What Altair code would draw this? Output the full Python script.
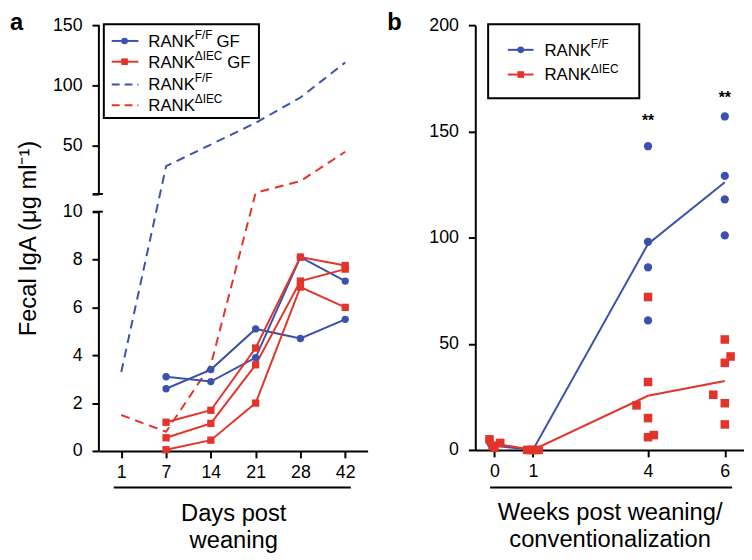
import altair as alt
import pandas as pd

BLUE = "#3a52ad"
RED = "#e3342b"
FONT = "Liberation Sans"

# ---------------- Panel a data ----------------
days = [1, 7, 14, 21, 28, 42]
gf_days = [7, 14, 21, 28, 42]
gf_ff_mice = [[3.1, 2.9, 3.9, 8.1, 7.1],
              [2.6, 3.4, 5.1, 4.7, 5.5]]
gf_diec_mice = [[1.2, 1.7, 4.3, 8.1, 7.75],
                [0.55, 1.15, 3.6, 7.1, 7.6],
                [0.05, 0.45, 2.0, 6.85, 6.0]]
spf_ff = [3.3, 33, 51, 69, 90, 119]
spf_diec = [1.5, 0.8, 3.6, 11, 20.7, 45]

# ---------------- Panel b data ----------------
ff_weeks = [-0.1, 0.0, 0.95, 1.05, 4, 4, 4, 4, 6, 6, 6, 6]
ff_vals = [3, 1.5, 0, 0, 143, 98, 86, 61, 157, 129, 118, 101]
diec_weeks = [-0.13, -0.05, 0.0, 0.15,
              0.85, 0.95, 1.05, 1.15,
              4, 4, 3.7, 4, 4, 4.15,
              6, 6.15, 6, 5.7, 6, 6]
diec_vals = [5, 2, 1, 3.3,
             0, 0, 0, 0,
             72, 32, 21, 15, 6, 7,
             52, 44, 41, 26, 22, 12]
mean_weeks = [0, 1, 4, 6]
ff_mean = [2, 0, 97, 126]
diec_mean = [3, 0, 25.5, 32.5]
star_weeks = [4, 6]
star_vals = [155, 165.5]

# ---------------- broken-axis mapping (panel a) ----------------
LOW_MAX = 10
GAP = 0.74
UP_SCALE = 0.0504
YMAX = LOW_MAX + GAP + (150 - LOW_MAX) * UP_SCALE


def disp(v):
    return v if v <= LOW_MAX else LOW_MAX + GAP + (v - LOW_MAX) * UP_SCALE


tick_labels_a = [0, 2, 4, 6, 8, 10, 50, 100, 150]
tick_pos_a = [disp(v) for v in tick_labels_a] + [LOW_MAX + GAP]
calc_expr = f"datum.value <= {LOW_MAX} ? datum.value : {LOW_MAX + GAP} + (datum.value - {LOW_MAX}) * {UP_SCALE}"
label_expr = (f"datum.value <= {LOW_MAX + 0.01} ? format(datum.value, 'd') : "
              f"(abs(datum.value - {LOW_MAX + GAP}) < 0.01 ? '' : "
              f"format(round({LOW_MAX} + (datum.value - {LOW_MAX + GAP}) / {UP_SCALE}), 'd'))")

rows = []
for i, m in enumerate(gf_ff_mice):
    for d, v in zip(gf_days, m):
        rows.append({"day": d, "value": v, "group": "GF F/F", "mouse": f"ff{i}"})
for i, m in enumerate(gf_diec_mice):
    for d, v in zip(gf_days, m):
        rows.append({"day": d, "value": v, "group": "GF dIEC", "mouse": f"d{i}"})
df_gf = pd.DataFrame(rows)

rows = []
for d, v in zip(days, spf_ff):
    rows.append({"day": d, "value": v, "group": "SPF F/F"})
for d, v in zip(days, spf_diec):
    rows.append({"day": d, "value": v, "group": "SPF dIEC"})
df_spf = pd.DataFrame(rows)

ONE = pd.DataFrame({"k": [0]})

Y_AXIS_A = alt.Axis(values=tick_pos_a, labelExpr=label_expr, domain=False,
                    title="Fecal IgA (μg ml⁻¹)", titlePadding=12)
Y_SCALE_A = alt.Scale(domain=[0, YMAX], nice=False, zero=False)
X_A = alt.X("day:O", scale=alt.Scale(domain=days, type="point", padding=0.5),
            axis=alt.Axis(labelAngle=0, title=["Days post", "weaning"], titlePadding=20,
                          titleLineHeight=28))
Y_A = alt.Y("yd:Q", scale=Y_SCALE_A, axis=Y_AXIS_A)

color_a = alt.Color("group:N", scale=alt.Scale(
    domain=["GF F/F", "GF dIEC", "SPF F/F", "SPF dIEC"],
    range=[BLUE, RED, BLUE, RED]), legend=None)

spf_lines = alt.Chart(df_spf).transform_calculate(yd=calc_expr).mark_line(
    strokeWidth=2, strokeDash=[9, 6]).encode(x=X_A, y=Y_A, color=color_a)
gf_lines = alt.Chart(df_gf).transform_calculate(yd=calc_expr).mark_line(
    strokeWidth=2).encode(x=X_A, y=Y_A, color=color_a, detail="mouse:N")
gf_points = alt.Chart(df_gf).transform_calculate(yd=calc_expr).mark_point(
    filled=True, opacity=1, size=55).encode(
    x=X_A, y=Y_A, color=color_a,
    shape=alt.Shape("group:N", scale=alt.Scale(domain=["GF F/F", "GF dIEC"],
                                                range=["circle", "square"]), legend=None))

axis_low = alt.Chart(ONE).mark_rule(color="black", strokeWidth=2).encode(
    x=alt.value(0), y=alt.YDatum(0, scale=Y_SCALE_A, axis=Y_AXIS_A), y2=alt.Y2Datum(LOW_MAX))
axis_up = alt.Chart(ONE).mark_rule(color="black", strokeWidth=2).encode(
    x=alt.value(0), y=alt.YDatum(LOW_MAX + GAP, scale=Y_SCALE_A, axis=Y_AXIS_A), y2=alt.Y2Datum(YMAX))
cap_low = alt.Chart(ONE).mark_rule(color="black", strokeWidth=2).encode(
    x=alt.value(-6), x2=alt.value(4), y=alt.YDatum(LOW_MAX, scale=Y_SCALE_A, axis=Y_AXIS_A))
cap_up = alt.Chart(ONE).mark_rule(color="black", strokeWidth=2).encode(
    x=alt.value(-6), x2=alt.value(4), y=alt.YDatum(LOW_MAX + GAP, scale=Y_SCALE_A, axis=Y_AXIS_A))


def text(t, x, y, size=17, weight="normal", align="left", baseline="middle"):
    return alt.Chart(ONE).mark_text(text=t, font=FONT, fontSize=size, fontWeight=weight,
                                    align=align, baseline=baseline, color="black").encode(
        x=alt.value(x), y=alt.value(y))


def hline(x1, x2, y, color, dash=None, width=2):
    kw = dict(color=color, strokeWidth=width)
    if dash:
        kw["strokeDash"] = dash
    return alt.Chart(ONE).mark_rule(**kw).encode(x=alt.value(x1), x2=alt.value(x2), y=alt.value(y))


def marker(x, y, color, shape, size=45):
    return alt.Chart(ONE).mark_point(filled=True, opacity=1, color=color, shape=shape, size=size).encode(
        x=alt.value(x), y=alt.value(y))


def box(x1, x2, y1, y2):
    return alt.Chart(ONE).mark_rect(fill="white", stroke="black", strokeWidth=2).encode(
        x=alt.value(x1), x2=alt.value(x2), y=alt.value(y1), y2=alt.value(y2))


legend_a = [
    box(5, 162, -1, 94),
    hline(13, 40, 16, BLUE), marker(26, 16, BLUE, "circle"),
    hline(13, 40, 37, RED), marker(26, 37, RED, "square"),
    hline(13, 40, 60, BLUE, [8, 5]),
    hline(13, 40, 81, RED, [8, 5]),
    text("RANK", 50, 17), text("F/F", 97, 10, size=12), text("GF", 119, 17),
    text("RANK", 50, 38), text("ΔIEC", 97, 31, size=12), text("GF", 130, 38),
    text("RANK", 50, 61), text("F/F", 97, 54, size=12),
    text("RANK", 50, 82), text("ΔIEC", 97, 75, size=12),
]

panel_a = alt.layer(
    axis_low, axis_up, cap_low, cap_up,
    spf_lines, gf_lines, gf_points,
    hline(15, 255, 468, "black"),
    *legend_a,
    text("a", -90, 5, size=24, weight="bold", baseline="alphabetic"),
).properties(width=272, height=431)

# ---------------- Panel b ----------------
df_pts = pd.DataFrame({"week": ff_weeks + diec_weeks,
                       "val": ff_vals + diec_vals,
                       "group": ["F/F"] * len(ff_vals) + ["dIEC"] * len(diec_vals)})
df_mean = pd.DataFrame({"week": mean_weeks * 2, "val": ff_mean + diec_mean,
                        "group": ["F/F"] * 4 + ["dIEC"] * 4})
df_star = pd.DataFrame({"week": star_weeks, "val": star_vals})

X_B = alt.X("week:Q", scale=alt.Scale(domain=[-0.5, 6.5], nice=False, zero=False),
            axis=alt.Axis(values=[0, 1, 4, 6], title=["Weeks post weaning/", "conventionalization"],
                          titlePadding=20, titleLineHeight=28))
Y_B = alt.Y("val:Q", scale=alt.Scale(domain=[0, 200], nice=False),
            axis=alt.Axis(values=[0, 50, 100, 150, 200], title=None))
color_b = alt.Color("group:N", scale=alt.Scale(domain=["F/F", "dIEC"], range=[BLUE, RED]), legend=None)

mean_lines = alt.Chart(df_mean).mark_line(strokeWidth=2).encode(x=X_B, y=Y_B, color=color_b, detail="group:N")
pts_ff = alt.Chart(df_pts).transform_filter("datum.group == 'F/F'").mark_point(
    filled=True, opacity=1, size=70, shape="circle").encode(x=X_B, y=Y_B, color=color_b)
pts_d = alt.Chart(df_pts).transform_filter("datum.group == 'dIEC'").mark_point(
    filled=True, opacity=1, size=75, shape="square").encode(x=X_B, y=Y_B, color=color_b)
stars = alt.Chart(df_star).mark_text(text="**", font=FONT, fontSize=16, fontWeight="bold",
                                     color="black", baseline="middle").encode(x=X_B, y=Y_B)

legend_b = [
    box(13, 166, -1, 74),
    hline(33, 59, 25, BLUE), marker(46, 25, BLUE, "circle"),
    hline(33, 59, 50, RED), marker(46, 50, RED, "square"),
    text("RANK", 70, 26), text("F/F", 117, 19, size=12),
    text("RANK", 70, 51), text("ΔIEC", 117, 44, size=12),
]

panel_b = alt.layer(
    mean_lines, pts_ff, pts_d, stars,
    hline(15, 260, 468, "black"),
    *legend_b,
    text("b", -89, 5, size=24, weight="bold", baseline="alphabetic"),
).properties(width=272, height=430)

chart = alt.hconcat(panel_a, panel_b, spacing=20).properties(
    padding={"left": 2, "top": 0, "right": 0, "bottom": 0}
).configure_view(stroke=None).configure_axis(
    labelFont=FONT, labelFontSize=18, labelColor="black",
    titleFont=FONT, titleFontSize=24, titleFontWeight="normal", titleColor="black",
    domainColor="black", domainWidth=2, tickColor="black", tickWidth=2, tickSize=7,
    labelPadding=6, grid=False
).configure_axisY(labelPadding=10)

chart.save("out.html", embed_options={"renderer": "svg", "actions": False})
